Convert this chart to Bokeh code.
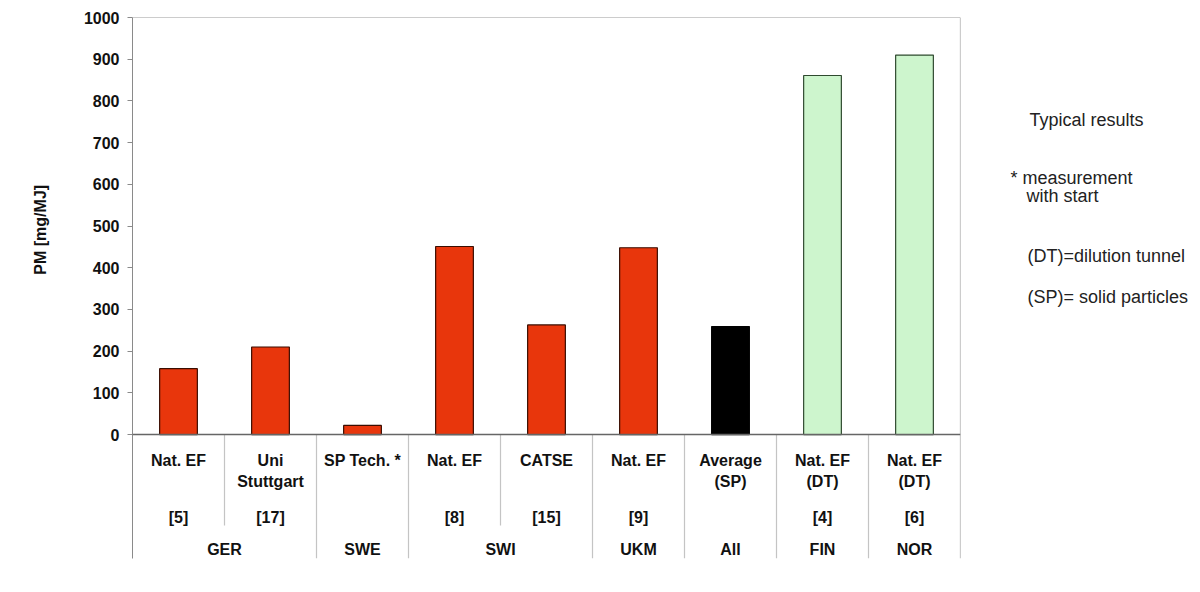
from bokeh.plotting import figure
from bokeh.models import Range1d, FixedTicker, Span, ColumnDataSource
from bokeh.layouts import row
from bokeh.embed import file_html
from bokeh.resources import INLINE
from bokeh.core.properties import value
import math

# ---- data ----
labels_line1 = ["Nat. EF", "Uni", "SP Tech. *", "Nat. EF", "CATSE", "Nat. EF", "Average", "Nat. EF", "Nat. EF"]
labels_line2 = ["", "Stuttgart", "", "", "", "", "(SP)", "(DT)", "(DT)"]
refs = ["[5]", "[17]", "", "[8]", "[15]", "[9]", "", "[4]", "[6]"]
pm_values = [158, 210, 22, 451, 263, 448, 259, 861, 910]
bar_kind = ["nat", "nat", "nat", "nat", "nat", "nat", "avg", "dt", "dt"]
countries = ["GER", "SWE", "SWI", "UKM", "All", "FIN", "NOR"]
country_start = [0, 2, 3, 5, 6, 7, 8]
country_count = [2, 1, 2, 1, 1, 1, 1]
y_ticks = [0, 100, 200, 300, 400, 500, 600, 700, 800, 900, 1000]
y_title = "PM [mg/MJ]"
notes = ["Typical results", "* measurement", "with start", "(DT)=dilution tunnel", "(SP)= solid particles"]

# ---- styles ----
FILL = {"nat": "#e8360c", "avg": "#000000", "dt": "#cdf5cd"}
LINE = {"nat": "#3a0d00", "avg": "#000000", "dt": "#2f4a2f"}
FONT = "Liberation Sans"
H = 576

def blank(width, x0, x1):
    f = figure(width=width, height=H, output_backend="svg", toolbar_location=None,
               x_range=Range1d(x0, x1), y_range=Range1d(H, 0),
               x_axis_location=None, y_axis_location=None,
               min_border=0, min_border_left=0, min_border_right=0,
               min_border_top=0, min_border_bottom=0)
    f.outline_line_color = None
    f.grid.visible = False
    return f

# left strip: y axis title (centred on the 0..1000 scale)
left = blank(60, 0, 60)
left.text(x=[40], y=[226], text=[y_title], angle=math.pi / 2,
          text_font=value(FONT), text_font_style="bold", text_font_size="16px",
          text_color="#111111", text_align="center", text_baseline="middle")

# main chart
n = len(pm_values)
y_lo = -297
p = figure(width=902, height=H, output_backend="svg", toolbar_location=None,
           x_range=Range1d(0, n), y_range=Range1d(y_lo, 1000),
           x_axis_location=None, min_border_left=72, min_border_right=2,
           min_border_top=17, min_border_bottom=18)
p.outline_line_color = None
p.xgrid.visible = False
p.ygrid.visible = False

ax = p.yaxis[0]
ax.ticker = FixedTicker(ticks=y_ticks)
ax.minor_tick_line_color = None
ax.major_tick_out = 5
ax.major_tick_in = 0
ax.axis_line_color = "#8a8a8a"
ax.major_tick_line_color = "#8a8a8a"
ax.major_label_standoff = 8
ax.major_label_text_font = FONT
ax.major_label_text_font_style = "bold"
ax.major_label_text_font_size = "16px"
ax.major_label_text_color = "#111111"

xs = [i + 0.5 for i in range(n)]
src = ColumnDataSource(dict(x=xs, top=pm_values,
                            fill=[FILL[k] for k in bar_kind],
                            line=[LINE[k] for k in bar_kind],
                            l1=labels_line1, l2=labels_line2, ref=refs))
p.vbar(x="x", top="top", bottom=0, width=0.41, source=src,
       fill_color="fill", line_color="line", line_width=1.2)

p.add_layout(Span(location=1000, dimension="width", line_color="#9a9a9a", line_width=1.2))
p.add_layout(Span(location=n, dimension="height", line_color="#9a9a9a", line_width=1.2))
p.add_layout(Span(location=0, dimension="width", line_color="#666666", line_width=1.5))

group_edges = set(s + c for s, c in zip(country_start, country_count))
sx, sy0, sy1 = [], [], []
for b in range(1, n):
    sx.append(b)
    sy0.append(0)
    sy1.append(y_lo if b in group_edges else -218)
p.segment(x0=sx, y0=sy0, x1=sx, y1=sy1, line_color="#c4c4c4", line_width=1.2)

tf = dict(text_font=value(FONT), text_font_style="bold", text_font_size="16px",
          text_color="#111111", text_align="center", text_baseline="middle")
p.text(x="x", y=-62, text="l1", source=src, **tf)
p.text(x="x", y=-113, text="l2", source=src, **tf)
p.text(x="x", y=-199, text="ref", source=src, **tf)
cx = [s + c / 2 for s, c in zip(country_start, country_count)]
p.text(x=cx, y=[-276] * len(cx), text=countries, **tf)

# right strip: notes
right = blank(230, 962, 1192)
note_x = [1029, 1010, 1026, 1027, 1027]
note_y = [109, 171, 190, 254, 298]
right.text(x=note_x, y=note_y, text=notes, text_font=value(FONT), text_font_size="18px",
           text_color="#222222", text_align="left", text_baseline="alphabetic")

layout = row(left, p, right)
open("out.html", "w").write(file_html(layout, INLINE))
